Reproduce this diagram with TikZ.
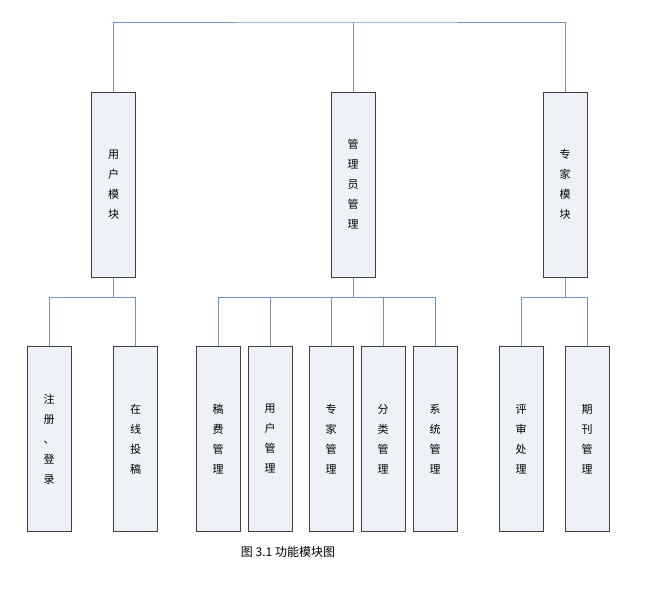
\documentclass[tikz,border=0pt]{standalone}
\usepackage{fontspec}
\newfontfamily\cjk{Noto Sans CJK SC}
\definecolor{boxfill}{HTML}{EEF2F8}
\definecolor{boxline}{HTML}{3F3F3F}
\definecolor{conn}{HTML}{7394C0}
\begin{document}
\begin{tikzpicture}[x=1pt,y=-1pt,
  mbox/.style={draw=boxline,fill=boxfill,line width=1pt,minimum width=44pt,minimum height=185pt,inner sep=0pt,align=center,font=\cjk\fontsize{11}{20}\selectfont},
  wire/.style={draw=conn,line width=1pt}]
\useasboundingbox (0,0) rectangle (660,592);
\fill[white] (0,0) rectangle (660,592);
\node[mbox] (u) at (113.5,184.5) {用\\户\\模\\块};
\node[mbox] (a) at (353,184.5) {管\\理\\员\\管\\理};
\node[mbox] (e) at (565,184.5) {专\\家\\模\\块};
\node[mbox] (b1) at (49,439) {注\\册\\、\\登\\录};
\node[mbox] (b2) at (135.5,439) {在\\线\\投\\稿};
\node[mbox] (b3) at (218,439) {稿\\费\\管\\理};
\node[mbox] (b4) at (270,439) {用\\户\\管\\理};
\node[mbox] (b5) at (331,439) {专\\家\\管\\理};
\node[mbox] (b6) at (383,439) {分\\类\\管\\理};
\node[mbox] (b7) at (435,439) {系\\统\\管\\理};
\node[mbox] (b8) at (521,439) {评\\审\\处\\理};
\node[mbox] (b9) at (587,439) {期\\刊\\管\\理};
\coordinate (top) at (353,22);
\draw[wire] (u.north) |- (top) -| (e.north);
\draw[wire] (top) -- (a.north);
\foreach \p/\k in {u/b1,u/b2,a/b3,a/b4,a/b5,a/b6,a/b7,e/b8,e/b9}
  \draw[wire] (\p.south) -- ++(0,20) -| (\k.north);
\node[font=\cjk\fontsize{12}{14}\selectfont] (cap) at (288,552) {图 3.1 功能模块图};
\end{tikzpicture}
\end{document}
